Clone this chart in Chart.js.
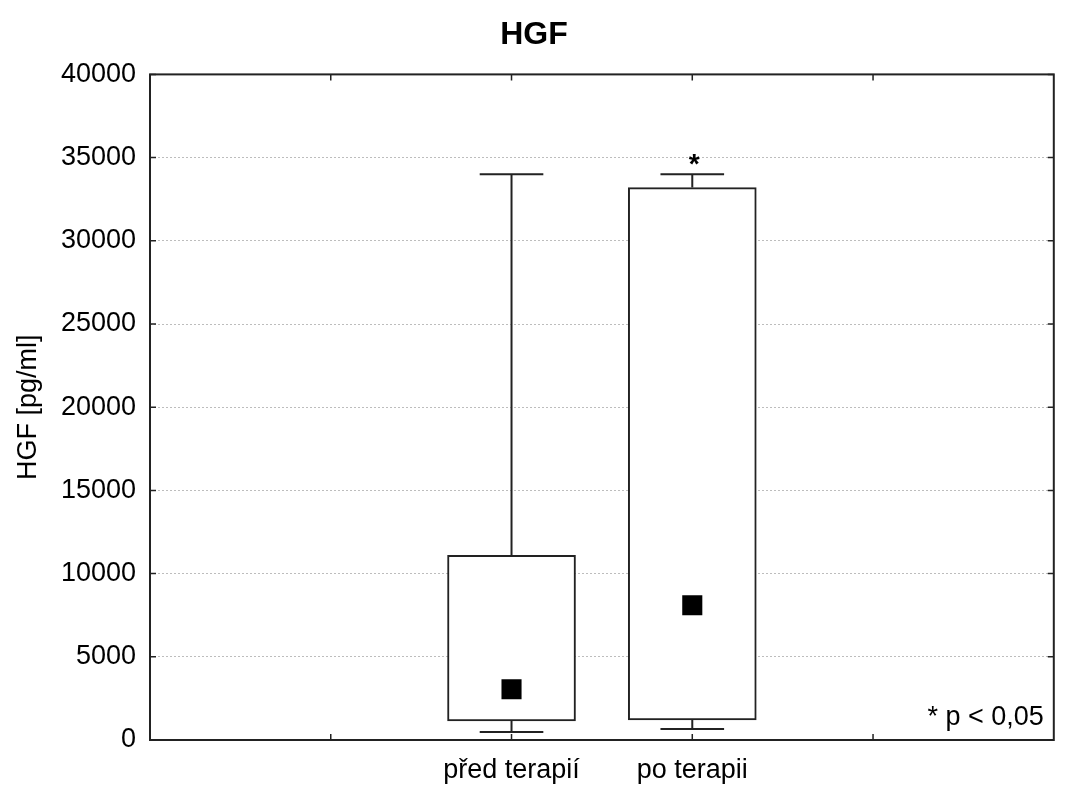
<!DOCTYPE html>
<html>
<head>
<meta charset="utf-8">
<script src="https://cdn.jsdelivr.net/npm/chart.js@4/dist/chart.umd.min.js"></script>
<style>
html,body{margin:0;padding:0;background:#fff;overflow:hidden;}
#wrap{width:1068px;height:800px;}
canvas{display:block;}
</style>
</head>
<body>
<div id="wrap"><canvas id="c" width="1068" height="800"></canvas></div>
<script>
// ---- data ----
const categories = ['před terapií', 'po terapii'];
const xPositions = [2, 3];           // category slots on a 0..5 axis
const whiskerMin = [480, 660];
const q1Values = [1150, 1200];
const medianValues = [3050, 8100];
const q3Values = [11100, 33200];
const whiskerMax = [34000, 34000];
const starMarks = [{x: 3, y: 35000, text: '*'}];
const yTicks = [0, 5000, 10000, 15000, 20000, 25000, 30000, 35000, 40000];
const noteText = '* p < 0,05';

const FONT = "'Liberation Sans', Arial, Helvetica, sans-serif";
const LINE = '#222';
const CAP = 0.176;

// build whisker segments (null breaks between segments)
const whiskerPts = [];
xPositions.forEach((x, i) => {
  whiskerPts.push({x: x, y: q3Values[i]}, {x: x, y: whiskerMax[i]}, {x: x, y: null});
  whiskerPts.push({x: x - CAP, y: whiskerMax[i]}, {x: x + CAP, y: whiskerMax[i]}, {x: x, y: null});
  whiskerPts.push({x: x, y: q1Values[i]}, {x: x, y: whiskerMin[i]}, {x: x, y: null});
  whiskerPts.push({x: x - CAP, y: whiskerMin[i]}, {x: x + CAP, y: whiskerMin[i]}, {x: x, y: null});
});

const framePlugin = {
  id: 'frame',
  afterDraw(chart) {
    const {ctx, chartArea: a, scales} = chart;
    const xs = scales.x, ys = scales.y;
    ctx.save();
    ctx.strokeStyle = LINE;
    ctx.lineWidth = 2;
    ctx.strokeRect(a.left, a.top, a.right - a.left, a.bottom - a.top);
    ctx.lineWidth = 1.5;
    const tl = 6;
    ctx.beginPath();
    ys.ticks.forEach(t => {
      const py = ys.getPixelForValue(t.value);
      ctx.moveTo(a.left, py); ctx.lineTo(a.left + tl, py);
      ctx.moveTo(a.right, py); ctx.lineTo(a.right - tl, py);
    });
    xs.ticks.forEach(t => {
      if (t.value <= xs.min || t.value >= xs.max) return;
      const px = xs.getPixelForValue(t.value);
      ctx.moveTo(px, a.bottom); ctx.lineTo(px, a.bottom - tl);
      ctx.moveTo(px, a.top); ctx.lineTo(px, a.top + tl);
    });
    ctx.stroke();
    // star annotations
    ctx.fillStyle = '#000';
    ctx.textBaseline = 'alphabetic';
    ctx.textAlign = 'center';
    ctx.font = 'bold 28px ' + FONT;
    starMarks.forEach(s => {
      ctx.fillText(s.text, xs.getPixelForValue(s.x) + 2, ys.getPixelForValue(s.y) + 15);
    });
    // note
    ctx.font = '27px ' + FONT;
    ctx.textAlign = 'right';
    ctx.fillText(noteText, a.right - 10, a.bottom - 15);
    ctx.restore();
  }
};

new Chart(document.getElementById('c'), {
  type: 'bar',
  data: {
    datasets: [
      {
        type: 'scatter',
        label: 'median',
        data: xPositions.map((x, i) => ({x: x, y: medianValues[i]})),
        pointStyle: 'rect',
        pointRadius: 14.2,
        pointHoverRadius: 14.2,
        backgroundColor: '#000',
        borderColor: '#000',
        borderWidth: 0
      },
      {
        type: 'line',
        label: 'whiskers',
        data: whiskerPts,
        borderColor: LINE,
        borderWidth: 2,
        pointRadius: 0,
        spanGaps: false,
        fill: false,
        tension: 0
      },
      {
        type: 'bar',
        label: 'box',
        data: xPositions.map((x, i) => ({x: x, y: [q1Values[i], q3Values[i]]})),
        backgroundColor: '#fff',
        borderColor: LINE,
        borderWidth: 2,
        borderSkipped: false,
        barThickness: 128
      }
    ]
  },
  options: {
    responsive: false,
    animation: false,
    events: [],
    layout: {padding: 0},
    plugins: {
      legend: {display: false},
      tooltip: {enabled: false},
      title: {
        display: true,
        text: 'HGF',
        color: '#000',
        font: {family: FONT, size: 32, weight: 'bold', lineHeight: 1.2},
        padding: {top: 16, bottom: 20}
      }
    },
    scales: {
      x: {
        type: 'linear',
        min: 0,
        max: 5,
        offset: false,
        afterFit(s) { s.height = 60; s.paddingLeft = 0; s.paddingRight = 11; },
        afterBuildTicks(s) { s.ticks = [0, 1, 2, 3, 4, 5].map(v => ({value: v})); },
        ticks: {
          autoSkip: false,
          maxRotation: 0,
          padding: 14,
          color: '#000',
          font: {family: FONT, size: 27},
          callback: (v) => {
            const k = xPositions.indexOf(v);
            return k >= 0 ? categories[k] : '';
          }
        },
        grid: {display: false, drawTicks: false},
        border: {display: false}
      },
      y: {
        type: 'linear',
        min: 0,
        max: 40000,
        afterFit(s) { s.width = 150; },
        afterBuildTicks(s) { s.ticks = yTicks.map(v => ({value: v})); },
        ticks: {
          padding: 14,
          color: '#000',
          font: {family: FONT, size: 27},
          callback: (v) => String(v)
        },
        grid: {
          color: '#bdbdbd',
          lineWidth: 1,
          drawTicks: false
        },
        border: {display: false, dash: [2, 2]},
        title: {
          display: true,
          text: 'HGF [pg/ml]',
          color: '#000',
          font: {family: FONT, size: 27},
          padding: {top: 12, bottom: 0}
        }
      }
    }
  },
  plugins: [framePlugin]
});
</script>
</body>
</html>
